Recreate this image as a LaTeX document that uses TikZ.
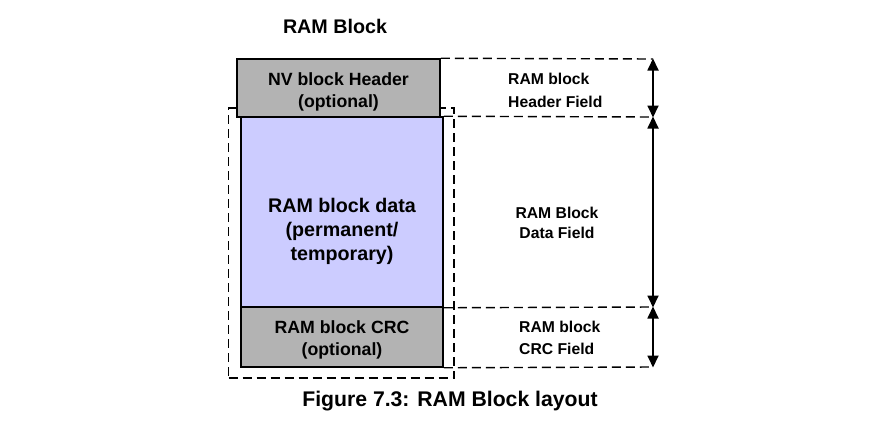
\documentclass[tikz,border=0pt]{standalone}
\usepackage{fontspec}
\setmainfont{Liberation Sans}
\usepackage{xcolor}
\usepackage{tikz}
\usetikzlibrary{arrows.meta,positioning,calc}
\definecolor{blkgray}{RGB}{179,179,179}
\definecolor{datablue}{RGB}{204,204,255}
\tikzstyle{blk} = [rectangle, draw, line width=1.5pt, inner sep=0pt]
\tikzstyle{blktxt} = [align=center, inner sep=0pt, font=\fontsize{17.7}{22}\selectfont\bfseries]
\tikzstyle{fieldlbl} = [align=left, inner sep=0pt, font=\fontsize{15.7}{23}\selectfont\bfseries]
\tikzstyle{guide} = [line width=1.4pt, dash pattern=on 9pt off 5pt]
\tikzstyle{dimarrow} = [line width=1.8pt, {Triangle[length=12pt,width=11pt]}-{Triangle[length=12pt,width=11pt]}, shorten <=-0.5pt, shorten >=-0.5pt]

\begin{document}
\begin{tikzpicture}[x=1pt, y=-1pt]
    \useasboundingbox (0,0) rectangle (885,426);
    \node[font=\fontsize{19.7}{24}\selectfont\bfseries] (title) at (335,26) {RAM Block};
    % outer frame of the RAM block
    \node[guide, draw, rectangle, minimum width=225.5pt, minimum height=270pt, inner sep=0pt] (frame) at (341.25,243) {};
    \node[blk, fill=blkgray, minimum width=203pt, minimum height=58pt] (hdr) at (338.5,88) {};
    \node[blk, fill=datablue, minimum width=202pt, minimum height=190pt] (data) at (342,212) {};
    \node[blk, fill=blkgray, minimum width=202pt, minimum height=60pt] (crc) at (342,337) {};
    \node[blktxt] (hdrtxt) at ($(hdr.center)+(0,4)$) {NV block Header\\(optional)};
    \node[blktxt, font=\fontsize{19.7}{24}\selectfont\bfseries] (datatxt) at ($(data.center)+(0,19)$) {RAM block data\\(permanent/\\temporary)};
    \node[blktxt] (crctxt) at ($(crc.center)+(0,3)$) {RAM block CRC\\(optional)};
    \coordinate (t1) at (653,59);
    \coordinate (t2) at (653,117);
    \coordinate (t3) at (653,307);
    \coordinate (t4) at (653,367);
    \draw[guide] (hdr.north east) -- (t1);
    \draw[guide] (data.north east) -- (t2);
    \draw[guide] (data.south east) -- (t3);
    \draw[guide] (crc.south east) -- (t4);
    \draw[dimarrow] (t1) -- (t2);
    \draw[dimarrow] (t2) -- (t3);
    \draw[dimarrow] (t3) -- (t4);
    \node[fieldlbl, anchor=west] (hdrlbl) at (508,90) {RAM block\\Header Field};
    \node[fieldlbl, align=center, font=\fontsize{15.7}{20}\selectfont\bfseries] (datalbl) at (557,223) {RAM Block\\Data Field};
    \node[fieldlbl, anchor=west, font=\fontsize{15.7}{22}\selectfont\bfseries] (crclbl) at (519,338) {RAM block\\CRC Field};
    \node[font=\fontsize{21.2}{26}\selectfont\bfseries] (caption) at (450,401) {Figure 7.3: RAM Block layout};
\end{tikzpicture}
\end{document}
